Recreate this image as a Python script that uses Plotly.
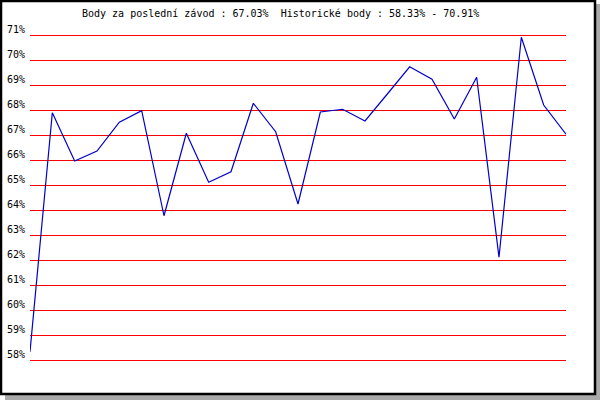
import plotly.graph_objects as go

# race index and points (%)
races = list(range(1, 26))
points = [
    58.33, 67.89, 65.96, 66.36, 67.51, 67.97, 63.77, 67.07, 65.11, 65.53,
    68.27, 67.13, 64.24, 67.92, 68.03, 67.56, 68.64, 69.73, 69.23, 67.64,
    69.31, 62.11, 70.91, 68.20, 67.03,
]
tick_vals = list(range(58, 72))
tick_text = [f"{v}%" for v in tick_vals]
title_text = "Body za poslední závod : 67.03%  Historické body : 58.33% - 70.91%"

W, H = 600, 400
ML, MR, MT, MB = 30, 34, 30, 35
PW, PH = W - ML - MR, H - MT - MB


def px_x(px):
    # pixel -> paper x
    return (px - ML) / PW


def px_y(py):
    # pixel -> paper y
    return (H - MB - py) / PH


fig = go.Figure()
fig.add_trace(
    go.Scatter(
        x=races,
        y=points,
        mode="lines",
        line=dict(color="#0000cc", width=1.2),
        cliponaxis=False,
        hoverinfo="skip",
    )
)

# frame: black outline plus grey drop shadow on the right and bottom
shapes = [
    dict(type="rect", xref="paper", yref="paper",
         x0=px_x(596), x1=px_x(600), y0=px_y(400), y1=px_y(4),
         fillcolor="#aaaaaa", line=dict(width=0), layer="above"),
    dict(type="rect", xref="paper", yref="paper",
         x0=px_x(5), x1=px_x(600), y0=px_y(400), y1=px_y(395),
         fillcolor="#aaaaaa", line=dict(width=0), layer="above"),
    dict(type="rect", xref="paper", yref="paper",
         x0=px_x(1), x1=px_x(595), y0=px_y(394), y1=px_y(1),
         line=dict(color="black", width=2.5), layer="above"),
]

fig.update_layout(
    width=W,
    height=H,
    margin=dict(l=ML, r=MR, t=MT, b=MB, autoexpand=False),
    paper_bgcolor="white",
    plot_bgcolor="white",
    showlegend=False,
    shapes=shapes,
    font=dict(family="DejaVu Sans Mono", size=10, color="black"),
    xaxis=dict(
        range=[1, 25],
        showgrid=False,
        zeroline=False,
        showticklabels=False,
        showline=False,
        fixedrange=True,
        automargin=False,
    ),
    yaxis=dict(
        range=[57.8, 71.2],
        tickmode="array",
        tickvals=tick_vals,
        ticktext=tick_text,
        showgrid=True,
        gridcolor="red",
        gridwidth=1,
        zeroline=False,
        showline=False,
        ticks="",
        ticklabelshift=-6,
        ticklabelstandoff=4,
        fixedrange=True,
        automargin=False,
    ),
    annotations=[
        dict(
            text=title_text,
            xref="paper",
            yref="paper",
            x=px_x(80),
            y=px_y(13),
            xanchor="left",
            yanchor="middle",
            showarrow=False,
            font=dict(family="DejaVu Sans Mono", size=10, color="black"),
        )
    ],
)

fig.write_html(
    "out.html",
    config={"displayModeBar": False},
    post_script="document.body.style.margin='0';",
)
